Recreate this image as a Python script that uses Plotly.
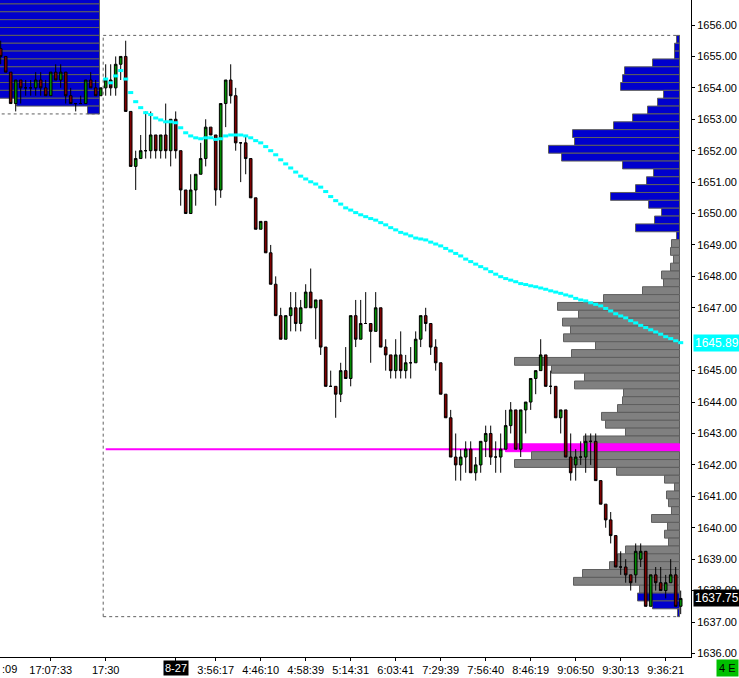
import plotly.graph_objects as go

# ---------------- data ----------------
opens = [
    1655.25, 1655.0, 1654.5, 1653.5, 1654.25, 1654.0, 1654.0, 1654.0, 1654.25, 1654.0,
    1653.75, 1654.5, 1654.25, 1654.5, 1653.75, 1653.5, 1653.5, 1653.5, 1654.25, 1654.0,
    1653.75, 1654.0, 1654.25, 1654.0, 1654.75, 1655.0, 1653.25, 1651.5, 1651.75, 1652.0,
    1652.0, 1652.5, 1652.0, 1652.5, 1652.0, 1653.0, 1652.0, 1650.75, 1650.0, 1650.75,
    1651.25, 1651.75, 1652.75, 1652.5, 1650.75, 1653.5, 1654.25, 1653.75, 1652.25, 1652.25,
    1651.75, 1650.5, 1649.5, 1649.75, 1648.75, 1647.75, 1646.75, 1646.0, 1646.75, 1647.0,
    1646.5, 1647.0, 1647.5, 1647.0, 1647.25, 1645.75, 1644.5, 1644.5, 1644.25, 1645.0,
    1644.75, 1646.75, 1646.0, 1646.5, 1646.5, 1646.25, 1647.0, 1645.75, 1645.5, 1645.0,
    1645.5, 1645.0, 1645.25, 1645.25, 1646.0, 1646.75, 1646.5, 1645.75, 1645.25, 1644.25,
    1643.5, 1642.25, 1642.0, 1642.25, 1642.5, 1641.75, 1642.0, 1642.75, 1643.0, 1642.25,
    1642.25, 1642.5, 1643.25, 1643.75, 1642.5, 1643.75, 1644.0, 1644.75, 1645.0, 1645.5,
    1644.5, 1644.5, 1643.5, 1643.75, 1642.25, 1642.0, 1642.25, 1642.25, 1642.75, 1642.75,
    1641.5, 1640.75, 1640.25, 1639.75, 1638.75, 1638.75, 1638.5, 1638.5, 1639.0, 1639.25,
    1637.5, 1638.5, 1638.25, 1638.0, 1638.25, 1638.5, 1637.5,
]
highs = [
    1655.5, 1655.0, 1654.5, 1654.25, 1654.25, 1654.25, 1654.25, 1654.5, 1654.5, 1654.25,
    1654.5, 1654.75, 1654.75, 1654.5, 1654.0, 1653.5, 1653.75, 1654.25, 1654.5, 1654.25,
    1654.0, 1654.75, 1654.75, 1655.0, 1655.0, 1655.5, 1653.25, 1652.0, 1652.5, 1653.25,
    1653.25, 1652.5, 1652.5, 1653.5, 1653.0, 1653.25, 1652.0, 1650.75, 1651.25, 1651.25,
    1652.25, 1653.0, 1652.75, 1652.5, 1653.5, 1654.25, 1654.75, 1654.0, 1652.25, 1652.5,
    1651.75, 1650.5, 1649.75, 1649.75, 1649.0, 1648.0, 1647.0, 1646.75, 1647.5, 1647.5,
    1647.25, 1647.75, 1648.25, 1647.25, 1647.25, 1645.75, 1645.0, 1644.5, 1645.25, 1645.75,
    1646.75, 1647.25, 1647.25, 1647.5, 1646.5, 1647.5, 1647.0, 1646.0, 1645.5, 1646.0,
    1646.25, 1645.5, 1645.75, 1646.25, 1646.75, 1647.0, 1646.5, 1646.0, 1645.25, 1644.25,
    1643.75, 1643.0, 1642.5, 1642.75, 1642.75, 1642.25, 1642.75, 1643.25, 1643.25, 1642.75,
    1643.0, 1643.75, 1644.0, 1643.75, 1643.75, 1644.0, 1644.75, 1645.0, 1646.0, 1645.5,
    1645.0, 1644.5, 1643.75, 1643.75, 1643.0, 1642.5, 1642.75, 1643.0, 1643.0, 1643.0,
    1641.5, 1640.75, 1640.5, 1639.75, 1639.25, 1639.0, 1638.5, 1639.5, 1639.5, 1639.25,
    1638.5, 1638.75, 1638.75, 1638.5, 1639.0, 1638.75, 1638.0,
]
lows = [
    1654.75, 1654.5, 1653.5, 1653.25, 1653.5, 1653.75, 1653.75, 1653.75, 1653.75, 1653.75,
    1653.75, 1654.25, 1654.0, 1653.5, 1653.5, 1653.25, 1653.5, 1653.5, 1654.0, 1653.75,
    1653.75, 1653.75, 1653.75, 1653.75, 1654.25, 1653.25, 1651.5, 1650.75, 1651.75, 1651.75,
    1651.75, 1651.75, 1651.75, 1651.75, 1651.5, 1651.75, 1650.25, 1650.0, 1650.0, 1650.25,
    1651.25, 1651.5, 1652.5, 1650.25, 1650.5, 1652.75, 1653.5, 1652.0, 1651.0, 1651.25,
    1650.5, 1649.5, 1649.5, 1648.75, 1647.75, 1646.75, 1646.0, 1646.0, 1646.25, 1646.25,
    1646.25, 1647.0, 1647.0, 1646.0, 1645.5, 1644.5, 1644.5, 1643.5, 1644.0, 1644.75,
    1644.5, 1645.75, 1646.0, 1646.5, 1645.25, 1646.25, 1645.75, 1645.0, 1644.75, 1644.75,
    1644.75, 1644.75, 1644.75, 1645.25, 1645.75, 1646.25, 1645.5, 1645.0, 1644.25, 1643.5,
    1642.25, 1641.5, 1641.5, 1641.75, 1641.75, 1641.5, 1641.75, 1642.25, 1642.0, 1641.75,
    1641.75, 1642.5, 1643.0, 1642.5, 1642.25, 1643.0, 1643.75, 1644.25, 1645.0, 1644.5,
    1644.25, 1643.5, 1643.0, 1642.25, 1641.5, 1641.5, 1642.0, 1641.75, 1642.0, 1641.5,
    1640.75, 1640.0, 1639.5, 1638.75, 1638.5, 1638.25, 1638.0, 1638.25, 1638.75, 1637.5,
    1637.5, 1638.0, 1638.0, 1637.75, 1638.25, 1637.5, 1637.25,
]
closes = [
    1655.0, 1654.5, 1653.5, 1654.25, 1654.0, 1654.0, 1654.0, 1654.25, 1654.0, 1653.75,
    1654.5, 1654.25, 1654.5, 1653.75, 1653.5, 1653.5, 1653.5, 1654.25, 1654.0, 1653.75,
    1654.0, 1654.25, 1654.0, 1654.75, 1655.0, 1653.25, 1651.5, 1651.75, 1652.0, 1652.0,
    1652.5, 1652.0, 1652.5, 1652.0, 1653.0, 1652.0, 1650.75, 1650.0, 1650.75, 1651.25,
    1651.75, 1652.75, 1652.5, 1650.75, 1653.5, 1654.25, 1653.75, 1652.25, 1652.25, 1651.75,
    1650.5, 1649.5, 1649.75, 1648.75, 1647.75, 1646.75, 1646.0, 1646.75, 1647.0, 1646.5,
    1647.0, 1647.5, 1647.0, 1647.25, 1645.75, 1644.5, 1644.5, 1644.25, 1645.0, 1644.75,
    1646.75, 1646.0, 1646.5, 1646.5, 1646.25, 1647.0, 1645.75, 1645.5, 1645.0, 1645.5,
    1645.0, 1645.25, 1645.25, 1646.0, 1646.75, 1646.5, 1645.75, 1645.25, 1644.25, 1643.5,
    1642.25, 1642.0, 1642.25, 1642.5, 1641.75, 1642.0, 1642.75, 1643.0, 1642.25, 1642.25,
    1642.5, 1643.25, 1643.75, 1642.5, 1643.75, 1644.0, 1644.75, 1645.0, 1645.5, 1644.5,
    1644.5, 1643.5, 1643.75, 1642.25, 1641.75, 1642.25, 1642.25, 1642.75, 1642.75, 1641.5,
    1640.75, 1640.25, 1639.75, 1638.75, 1638.75, 1638.5, 1638.25, 1639.25, 1639.25, 1637.5,
    1638.5, 1638.25, 1638.0, 1638.25, 1638.5, 1637.5, 1637.75,
]
bar_index = list(range(len(opens)))

session_start = 21  # first bar of current session
vwap = [
    1654.28, 1654.16, 1654.38, 1654.55, 1654.28, 1653.85, 1653.56, 1653.37, 1653.21, 1653.15,
    1653.04, 1652.98, 1652.92, 1652.92, 1652.89, 1652.73, 1652.57, 1652.47, 1652.41, 1652.38,
    1652.41, 1652.41, 1652.36, 1652.38, 1652.47, 1652.50, 1652.50, 1652.50, 1652.47, 1652.41,
    1652.32, 1652.25, 1652.13, 1652.00, 1651.87, 1651.71, 1651.58, 1651.45, 1651.32, 1651.19,
    1651.10, 1651.01, 1650.94, 1650.84, 1650.70, 1650.54, 1650.41, 1650.30, 1650.18, 1650.11,
    1650.03, 1649.96, 1649.90, 1649.84, 1649.79, 1649.71, 1649.64, 1649.55, 1649.48, 1649.40,
    1649.35, 1649.29, 1649.22, 1649.19, 1649.16, 1649.09, 1649.03, 1648.97, 1648.89, 1648.81,
    1648.73, 1648.65, 1648.55, 1648.47, 1648.39, 1648.31, 1648.24, 1648.15, 1648.07, 1647.99,
    1647.93, 1647.88, 1647.83, 1647.77, 1647.74, 1647.70, 1647.67, 1647.63, 1647.59, 1647.54,
    1647.50, 1647.46, 1647.41, 1647.37, 1647.30, 1647.25, 1647.22, 1647.16, 1647.11, 1647.06,
    1646.98, 1646.90, 1646.81, 1646.74, 1646.68, 1646.59, 1646.52, 1646.44, 1646.37, 1646.30,
    1646.23, 1646.16, 1646.08, 1646.02, 1645.95, 1645.89,
]
vwap_index = list(range(session_start, session_start + len(vwap)))

# current-session volume profile
profile_prices = [
    1655.5, 1655.25, 1655.0, 1654.75, 1654.5, 1654.25, 1654.0, 1653.75, 1653.5, 1653.25,
    1653.0, 1652.75, 1652.5, 1652.25, 1652.0, 1651.75, 1651.5, 1651.25, 1651.0, 1650.75,
    1650.5, 1650.25, 1650.0, 1649.75, 1649.5, 1649.25, 1649.0, 1648.75, 1648.5, 1648.25,
    1648.0, 1647.75, 1647.5, 1647.25, 1647.0, 1646.75, 1646.5, 1646.25, 1646.0, 1645.75,
    1645.5, 1645.25, 1645.0, 1644.75, 1644.5, 1644.25, 1644.0, 1643.75, 1643.5, 1643.25,
    1643.0, 1642.75, 1642.5, 1642.25, 1642.0, 1641.75, 1641.5, 1641.25, 1641.0, 1640.75,
    1640.5, 1640.25, 1640.0, 1639.75, 1639.5, 1639.25, 1639.0, 1638.75, 1638.5, 1638.25,
    1638.0, 1637.75, 1637.5, 1637.25,
]
profile_volumes = [
    3, 5, 5, 27, 55, 57, 59, 16, 22, 32,
    47, 66, 107, 105, 131, 118, 57, 26, 33, 44,
    69, 31, 18, 25, 44, 3, 8, 9, 6, 9,
    18, 16, 37, 76, 122, 101, 117, 109, 116, 84,
    108, 165, 128, 95, 105, 56, 57, 62, 78, 74,
    54, 96, 174, 148, 165, 63, 15, 5, 13, 11,
    8, 28, 12, 15, 11, 54, 62, 70, 97, 106,
    40, 42, 27, 2,
]
poc_price = 1642.5
value_area_high = 1649.0
value_area_low = 1638.0

# previous-session volume profile (visible part)
prev_profile_prices = [
    1656.75, 1656.5, 1656.25, 1656.0, 1655.75, 1655.5, 1655.25, 1655.0,
    1654.75, 1654.5, 1654.25, 1654.0, 1653.75, 1653.5, 1653.25,
]
prev_profile_volumes = [240, 230, 250, 220, 260, 210, 230, 200, 190, 180, 170, 150, 130, 83, 12]

tick_index = [10, 21, 35, 43, 52, 61, 70, 79, 88, 97, 106, 115, 124, 133]
tick_labels = ["17:07:33", "17:30", "8-27", "3:56:17", "4:46:10", "4:58:39", "5:14:31",
               "6:03:41", "7:29:39", "7:56:40", "8:46:19", "9:06:50", "9:30:13", "9:36:21"]
price_ticks = [1636, 1637, 1638, 1639, 1640, 1641, 1642, 1643, 1644, 1645,
               1647, 1648, 1649, 1650, 1651, 1652, 1653, 1654, 1655, 1656]

# ---------------- presentation ----------------
BLUE = "#0000CD"
GRAY = "#808080"
EDGE = "#5E5E5E"
MAG = "#FF00FF"
CYAN = "#00FFFF"
ROW = 0.25
ROW_OFF = -0.08
VOL_SCALE = 0.2          # bar-index units per volume unit
RIGHT_ANCHOR = 135.76    # bar-index position of the right profile's base
LEFT_ANCHOR = 19.76      # bar-index position of the previous profile's base

session_high = max(highs[session_start:])
session_low = min(lows[session_start:])
prev_low = min(lows[:session_start])

fig = go.Figure()

# previous-session profile
fig.add_trace(go.Bar(
    y=prev_profile_prices, x=[-v * VOL_SCALE for v in prev_profile_volumes],
    base=LEFT_ANCHOR, orientation="h", width=ROW, offset=ROW_OFF,
    marker=dict(color=BLUE, line=dict(color=EDGE, width=1)), hoverinfo="skip"))

# current-session profile
colors, edges = [], []
for p in profile_prices:
    if p == poc_price:
        colors.append(MAG); edges.append(MAG)
    elif value_area_low <= p <= value_area_high:
        colors.append(GRAY); edges.append(EDGE)
    else:
        colors.append(BLUE); edges.append(EDGE)
fig.add_trace(go.Bar(
    y=profile_prices, x=[-v * VOL_SCALE for v in profile_volumes],
    base=RIGHT_ANCHOR, orientation="h", width=ROW, offset=ROW_OFF,
    marker=dict(color=colors, line=dict(color=edges, width=1)), hoverinfo="skip"))

fig.add_trace(go.Candlestick(
    x=bar_index, open=opens, high=highs, low=lows, close=closes,
    increasing=dict(fillcolor="#008C00", line=dict(color="black", width=1)),
    decreasing=dict(fillcolor="#800000", line=dict(color="black", width=1)),
    whiskerwidth=0, hoverinfo="skip"))

fig.add_trace(go.Scatter(
    x=vwap_index, y=vwap, mode="markers",
    marker=dict(symbol="line-ew", size=3.6, line=dict(color=CYAN, width=3)),
    hoverinfo="skip"))

dash = dict(color="#606060", width=1, dash="3px,3px")
shapes = [
    dict(type="line", xref="x", yref="y", x0=-1, x1=LEFT_ANCHOR,
         y0=prev_low + ROW_OFF, y1=prev_low + ROW_OFF, line=dash, layer="below"),
    dict(type="line", xref="x", yref="y", x0=session_start - 0.5, x1=session_start - 0.5,
         y0=session_low + ROW_OFF, y1=session_high + ROW_OFF + ROW, line=dash, layer="below"),
    dict(type="line", xref="x", yref="y", x0=session_start - 0.5, x1=RIGHT_ANCHOR,
         y0=session_high + ROW_OFF + ROW, y1=session_high + ROW_OFF + ROW, line=dash, layer="below"),
    dict(type="line", xref="x", yref="y", x0=session_start - 0.5, x1=RIGHT_ANCHOR,
         y0=session_low + ROW_OFF, y1=session_low + ROW_OFF, line=dash, layer="below"),
    dict(type="line", xref="x", yref="y", x0=session_start, x1=RIGHT_ANCHOR,
         y0=poc_price, y1=poc_price, line=dict(color=MAG, width=2), layer="below"),
]

FONT = "Liberation Sans"
annotations = [
    dict(x=tick_index[2], xref="x", y=0, yref="paper", yanchor="top", yshift=-3,
         text=tick_labels[2], showarrow=False, bgcolor="black", borderpad=1,
         font=dict(color="white", size=11, family=FONT)),
    dict(x=0, xref="paper", xanchor="left", y=0, yref="paper", yanchor="top", yshift=-4,
         text=":09", showarrow=False, font=dict(color="black", size=11, family=FONT)),
    dict(x=1, xref="paper", xanchor="left", xshift=2, y=vwap[-1], yref="y",
         text=f"{vwap[-1]:.2f}", showarrow=False, bgcolor=CYAN, borderpad=1,
         font=dict(color="white", size=12, family=FONT)),
    dict(x=1, xref="paper", xanchor="left", xshift=2, y=closes[-1], yref="y",
         text=f"{closes[-1]:.2f}", showarrow=False, bgcolor="black", borderpad=1,
         font=dict(color="white", size=12, family=FONT)),
    dict(x=1, xref="paper", xanchor="right", xshift=48, y=0, yref="paper", yanchor="top",
         yshift=-2, text="4 E", showarrow=False, bgcolor="#00C000", borderpad=2,
         font=dict(color="black", size=11, family=FONT)),
]

fig.update_layout(
    width=739, height=678, margin=dict(l=0, r=48, t=0, b=21),
    paper_bgcolor="white", plot_bgcolor="white", showlegend=False,
    barmode="overlay", boxgap=0.25, hovermode=False,
    font=dict(family=FONT, size=11, color="black"),
    shapes=shapes, annotations=annotations,
)
fig.update_xaxes(
    range=[-0.14, 138.06], showgrid=False, zeroline=False,
    showline=True, linecolor="black", linewidth=1,
    ticks="outside", ticklen=3, tickcolor="black",
    tickvals=tick_index, ticktext=[t if t != "8-27" else " " for t in tick_labels],
    rangeslider=dict(visible=False), fixedrange=True,
)
fig.update_yaxes(
    side="right", range=[1635.886, 1656.796],
    tickvals=price_ticks, ticktext=[f"{v:.2f}" for v in price_ticks],
    showgrid=False, zeroline=False, showline=True, linecolor="black", linewidth=1,
    ticks="outside", ticklen=3, tickcolor="black", fixedrange=True,
)

fig.write_html(
    "out.html",
    config={"displayModeBar": False},
    post_script="document.body.style.margin='0';document.body.style.overflow='hidden';",
)
